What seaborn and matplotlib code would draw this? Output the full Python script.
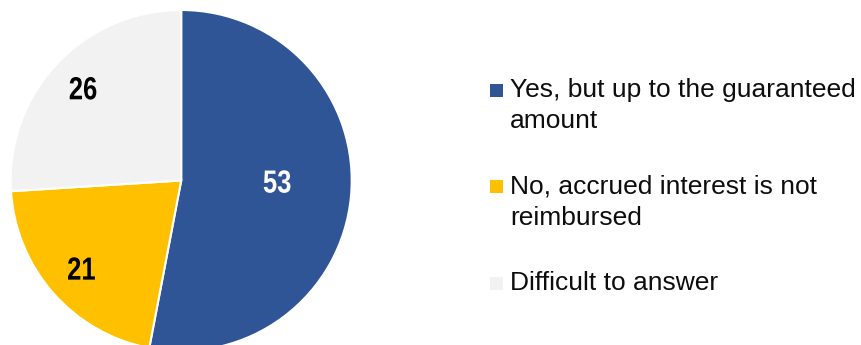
import numpy as np
import matplotlib
matplotlib.use("Agg")
import matplotlib.pyplot as plt
from matplotlib.font_manager import FontProperties
from matplotlib.textpath import TextPath
from matplotlib.patches import PathPatch, Rectangle
from matplotlib.transforms import Affine2D
import seaborn as sns

categories = [
    "Yes, but up to the guaranteed\namount",
    "No, accrued interest is not\nreimbursed",
    "Difficult to answer",
]
values = [53, 21, 26]
colors = ["#2F5597", "#FFC000", "#F2F2F2"]
label_colors = ["white", "black", "black"]

sns.set_style("white")
plt.rcParams["font.family"] = ["Liberation Sans", "DejaVu Sans"]

W, H = 862, 345
fig = plt.figure(figsize=(W / 100, H / 100), dpi=100)
cx, cy, r = 181.2, 180.5, 170.5          # pixel centre (from top) and radius
ax = fig.add_axes([(cx - r) / W, (H - cy - r) / H, 2 * r / W, 2 * r / H])
wedges, _ = ax.pie(values, colors=colors, startangle=90, counterclock=False,
                   wedgeprops=dict(edgecolor="white", linewidth=1.5))
ax.set_xlim(-1, 1)
ax.set_ylim(-1, 1)
ax.axis("off")

# value labels in a condensed bold face, centred near each wedge's bisector
bold = FontProperties(family="Liberation Sans", weight="bold")
label_r = [0.565, 0.78, 0.79]
label_lift_px = [8, 0, 0]
for w, v, c, lr, lift in zip(wedges, values, label_colors, label_r, label_lift_px):
    ang = np.deg2rad((w.theta1 + w.theta2) / 2)
    px, py = ax.transData.transform((lr * np.cos(ang), lr * np.sin(ang)))
    tp = TextPath((0, 0), f"{v}", size=32, prop=bold)
    bb = tp.get_extents()
    tr = (Affine2D()
          .translate(-(bb.x0 + bb.x1) / 2, -(bb.y0 + bb.y1) / 2)
          .scale(0.8, 1.0)
          .translate(px, py + lift))
    fig.patches.append(PathPatch(tp, transform=tr, facecolor=c,
                                 edgecolor="none", figure=fig))

# legend: square marker sits on the first line's baseline
first_baselines = [97, 193.3, 290]
line_step = 31.5
for lab, col, yb in zip(categories, colors, first_baselines):
    fig.patches.append(Rectangle((490 / W, 1 - yb / H), 13 / W, 13.5 / H,
                                 transform=fig.transFigure, facecolor=col,
                                 edgecolor="none"))
    for i, line in enumerate(lab.split("\n")):
        fig.text(510 / W, 1 - (yb + i * line_step) / H, line, ha="left",
                 va="baseline", fontsize=19, color="#0D0D0D")

fig.savefig("out.png", dpi=100)
